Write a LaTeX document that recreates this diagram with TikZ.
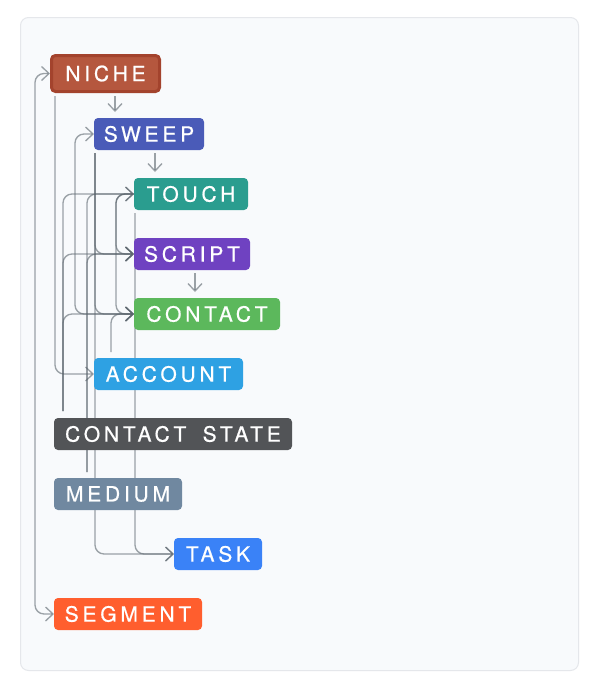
\documentclass[tikz,border=0pt]{standalone}
\usepackage{fontspec}
\newfontfamily\nodefont{TeX Gyre Heros}[LetterSpace=18, FakeBold=0.6, WordSpace=1.7]
\usetikzlibrary{arrows.meta}
\definecolor{cardbg}{RGB}{248,250,252}
\definecolor{cardline}{RGB}{229,231,235}
\definecolor{edgecol}{RGB}{92,102,110}
\definecolor{nichec}{RGB}{181,87,62}
\definecolor{nicheb}{RGB}{163,67,45}
\definecolor{sweepc}{RGB}{74,91,184}
\definecolor{touchc}{RGB}{42,157,143}
\definecolor{scriptc}{RGB}{111,66,193}
\definecolor{contactc}{RGB}{92,184,92}
\definecolor{accountc}{RGB}{46,161,227}
\definecolor{cstatec}{RGB}{82,84,87}
\definecolor{mediumc}{RGB}{112,136,160}
\definecolor{taskc}{RGB}{58,130,247}
\definecolor{segmentc}{RGB}{255,94,46}
\pgfdeclarelayer{bg}
\pgfsetlayers{bg,main}
\tikzset{
  ent/.style={rounded corners=4pt, inner sep=0pt, outer sep=0pt, minimum height=32pt,
    text=white, font=\nodefont\fontsize{21pt}{25pt}\selectfont, anchor=west},
  edge/.style={draw=edgecol, opacity=0.6, line width=1.35pt, rounded corners=9pt,
    >={Straight Barb[length=7.5pt,width=14pt]}, ->},
}
\begin{document}
\begin{tikzpicture}[x=1pt,y=-1pt]
\useasboundingbox (0,0) rectangle (596,688);

\node[ent, fill=nichec, draw=nicheb, line width=3pt, minimum width=108pt, minimum height=36pt, outer sep=1.5pt, anchor=center] (niche) at (105.5,73.5) {NICHE};
\node[ent, fill=sweepc, minimum width=110pt] (sweep) at (94,134) {SWEEP};
\node[ent, fill=touchc, minimum width=114pt] (touch) at (134,194) {TOUCH};
\node[ent, fill=scriptc, minimum width=116pt] (script) at (134,254) {SCRIPT};
\node[ent, fill=contactc, minimum width=146pt] (contact) at (134,314) {CONTACT};
\node[ent, fill=accountc, minimum width=149pt] (account) at (94,374) {ACCOUNT};
\node[ent, fill=cstatec, minimum width=238pt] (cstate) at (54,434) {CONTACT STATE};
\node[ent, fill=mediumc, minimum width=128pt] (medium) at (54,494) {MEDIUM};
\node[ent, fill=taskc, minimum width=88pt] (task) at (174,554) {TASK};
\node[ent, fill=segmentc, minimum width=148pt] (segment) at (54,614) {SEGMENT};

\coordinate (x55) at (55,0);
\coordinate (x63) at (63,0);
\coordinate (x87) at (87,0);
\coordinate (x95) at (95,0);
\coordinate (x111) at (111,0);
\coordinate (x115) at (115,0);
\coordinate (x135) at (135,0);
\coordinate (x155) at (155,0);
\coordinate (x195) at (195,0);

\begin{pgfonlayer}{bg}
\fill[white] (0,0) rectangle (596,688);
\draw[cardline, fill=cardbg, line width=1pt, rounded corners=8pt] (20.5,17.5) rectangle (578.5,670.5);

% straight downward arrows
\draw[edge, shorten <=3pt, shorten >=6pt] (niche.south -| x115) -- (sweep.north -| x115);
\draw[edge, shorten <=3pt, shorten >=6pt] (sweep.south -| x155) -- (touch.north -| x155);
\draw[edge, shorten <=3pt, shorten >=6pt] (script.south -| x195) -- (contact.north -| x195);

% left loops
\draw[edge, <->] (niche.west) -- ++(-15,0) |- (segment.west);
\draw[edge] (contact.west) -- ++(-59,0) |- (sweep.west);
\foreach \t in {script,contact} \draw[edge] (touch.west) -- ++(-18,0) |- (\t.west);

% trunks
\draw[edge, shorten <=3pt] (niche.south -| x55) |- (account.west);
\foreach \t in {touch,script,contact} \draw[edge, shorten <=7pt] (cstate.north -| x63) |- (\t.west);
\foreach \t in {touch,script} \draw[edge, shorten <=6pt] (medium.north -| x87) |- (\t.west);
\foreach \t in {script,contact,task} \draw[edge, shorten <=3pt] (sweep.south -| x95) |- (\t.west);
\draw[edge, shorten <=6pt] (account.north -| x111) |- (contact.west);
\draw[edge, shorten <=3pt] (touch.south -| x135) |- (task.west);
\end{pgfonlayer}
\end{tikzpicture}
\end{document}
